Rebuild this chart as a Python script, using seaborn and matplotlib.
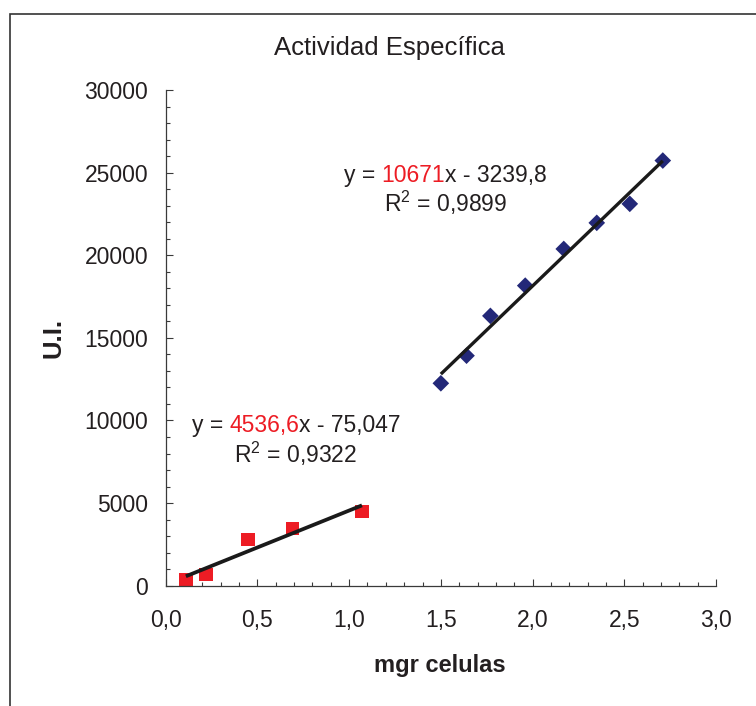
import numpy as np
import pandas as pd
import matplotlib
matplotlib.use("Agg")
import matplotlib.pyplot as plt
import seaborn as sns
from matplotlib.patches import Rectangle
from matplotlib.ticker import MultipleLocator, FixedLocator, FixedFormatter

# ---------------- data ----------------
title = "Actividad Específica"
x_label = "mgr celulas"
y_label = "U.I."

red_x = [0.11, 0.22, 0.45, 0.69, 1.07]
red_y = [345, 665, 2810, 3450, 4480]

blue_x = [1.50, 1.64, 1.77, 1.96, 2.17, 2.35, 2.53, 2.71]
blue_y = [12250, 13920, 16330, 18160, 20380, 21960, 23110, 25730]

red_eq_parts = ["y = ", "4536,6", "x - 75,047"]
red_r2 = r"R$^{2}$ = 0,9322"
blue_eq_parts = ["y = ", "10671", "x - 3239,8"]
blue_r2 = r"R$^{2}$ = 0,9899"

x_ticks = [0.0, 0.5, 1.0, 1.5, 2.0, 2.5, 3.0]
x_tick_labels = ["0,0", "0,5", "1,0", "1,5", "2,0", "2,5", "3,0"]
y_ticks = [0, 5000, 10000, 15000, 20000, 25000, 30000]
y_tick_labels = ["0", "5000", "10000", "15000", "20000", "25000", "30000"]

# ---------------- style ----------------
sns.set_theme(style="white")
plt.rcParams["font.family"] = ["Liberation Sans", "DejaVu Sans"]
plt.rcParams["mathtext.fontset"] = "custom"
plt.rcParams["mathtext.rm"] = "Liberation Sans"
plt.rcParams["mathtext.it"] = "Liberation Sans"
plt.rcParams["mathtext.bf"] = "Liberation Sans:bold"

W, H = 756, 706
TXT = "#231f20"
RED = "#ED1C24"
BLUE = "#232878"
AXC = "#3a3a3a"

fig = plt.figure(figsize=(W / 100, H / 100), dpi=100)
ax = fig.add_axes([165.7 / W, 1 - 585.7 / H, (716 - 165.7) / W, (585.7 - 90) / H])

df_red = pd.DataFrame({"x": red_x, "y": red_y})
df_blue = pd.DataFrame({"x": blue_x, "y": blue_y})

sns.regplot(data=df_red, x="x", y="y", ax=ax, ci=None, marker="s", truncate=True,
            scatter_kws=dict(s=95, color=RED, alpha=1, edgecolors="none", linewidths=0,
                             clip_on=False, zorder=2),
            line_kws=dict(color="#1a1a1a", lw=2.7, zorder=3, solid_capstyle="butt"))
sns.regplot(data=df_blue, x="x", y="y", ax=ax, ci=None, marker="D", truncate=True,
            scatter_kws=dict(s=72, color=BLUE, alpha=1, edgecolors="none", linewidths=0,
                             clip_on=False, zorder=2),
            line_kws=dict(color="#1a1a1a", lw=2.4, zorder=3, solid_capstyle="butt"))

ax.set_xlim(0, 3.0)
ax.set_ylim(0, 30000)
ax.set_xlabel("")
ax.set_ylabel("")
ax.xaxis.set_major_locator(FixedLocator(x_ticks))
ax.xaxis.set_major_formatter(FixedFormatter(x_tick_labels))
ax.yaxis.set_major_locator(FixedLocator(y_ticks))
ax.yaxis.set_major_formatter(FixedFormatter(y_tick_labels))
ax.xaxis.set_minor_locator(MultipleLocator(0.1))
ax.yaxis.set_minor_locator(MultipleLocator(1000))

for s in ["top", "right"]:
    ax.spines[s].set_visible(False)
for s in ["left", "bottom"]:
    ax.spines[s].set_color(AXC)
    ax.spines[s].set_linewidth(0.9)

ax.tick_params(which="both", direction="in", color=AXC, width=0.8,
               bottom=True, left=True, top=False, right=False)
ax.tick_params(which="major", length=5)
ax.tick_params(which="minor", length=3)
ax.tick_params(axis="x", which="major", pad=17, labelsize=16.5, labelcolor=TXT)
ax.tick_params(axis="y", which="major", pad=12.5, labelsize=16.5, labelcolor=TXT)

# title and axis labels
fig.text(389 / W, 1 - 55 / H, title, ha="center", va="baseline", fontsize=18.5, color=TXT)
fig.text(440 / W, 1 - 672 / H, x_label, ha="center", va="baseline", fontsize=17,
         fontweight="bold", color=TXT)
fig.text(54 / W, 1 - 338 / H, y_label, ha="center", va="center", rotation=90, fontsize=18.5,
         fontweight="bold", color=TXT)

# frame around chart
fig.add_artist(Rectangle((10 / W, -0.3), 1.5, 1 - 14 / H + 0.3, transform=fig.transFigure,
                         fill=False, edgecolor="#333333", lw=1.2, clip_on=False))

# equations with colored slopes
FS = 16.5


def colored_line(parts, colors, baseline_px):
    t0 = fig.text(0.5, 1 - baseline_px / H, parts[0], color=colors[0], fontsize=FS,
                  ha="left", va="baseline")
    texts = [t0]
    prev = t0
    for s, c in zip(parts[1:], colors[1:]):
        t = ax.annotate(s, xy=(1, 0), xycoords=prev, ha="left", va="bottom",
                        color=c, fontsize=FS, annotation_clip=False)
        texts.append(t)
        prev = t
    return texts


eq_colors = [TXT, RED, TXT]
blue_line = colored_line(blue_eq_parts, eq_colors, 181.7)
red_line = colored_line(red_eq_parts, eq_colors, 431.7)
fig.text(446 / W, 1 - 211.7 / H, blue_r2, ha="center", va="baseline", fontsize=FS, color=TXT)
fig.text(296 / W, 1 - 462.7 / H, red_r2, ha="center", va="baseline", fontsize=FS, color=TXT)

fig.canvas.draw()
renderer = fig.canvas.get_renderer()
for texts, cx in [(blue_line, 445), (red_line, 296)]:
    x0 = min(t.get_window_extent(renderer).x0 for t in texts)
    x1 = max(t.get_window_extent(renderer).x1 for t in texts)
    dx = cx - (x0 + x1) / 2
    px, py = texts[0].get_position()
    texts[0].set_position((px + dx / W, py))

fig.savefig("out.png", dpi=100)
